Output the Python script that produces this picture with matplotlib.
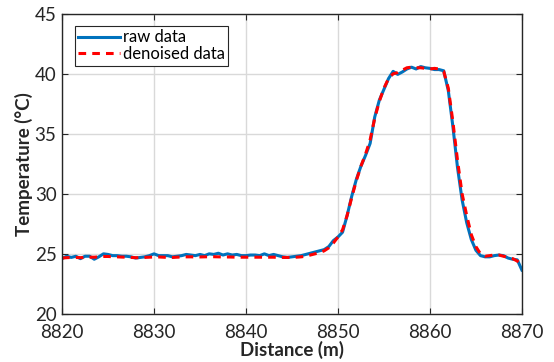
import numpy as np
import matplotlib
matplotlib.use("Agg")
from matplotlib import pyplot as plt

plt.rcParams['font.family'] = ['Lato', 'DejaVu Sans']

# distance sampled every 0.5 m
distance = np.arange(8820, 8870.01, 0.5)

raw_temp = [
    24.6, 24.8, 24.7, 24.8, 24.6, 24.8, 24.8, 24.55, 24.75, 25.0,
    24.95, 24.85, 24.85, 24.8, 24.8, 24.75, 24.65, 24.7, 24.75, 24.85,
    25.0, 24.85, 24.85, 24.85, 24.75, 24.8, 24.85, 24.95, 24.9, 24.85,
    24.95, 24.85, 25.0, 24.95, 25.05, 24.9, 25.0, 24.9, 24.95, 24.85,
    24.85, 24.9, 24.9, 24.85, 25.0, 24.85, 24.95, 24.85, 24.75, 24.7,
    24.75, 24.8, 24.85, 24.95, 25.05, 25.15, 25.25, 25.35, 25.6, 26.1,
    26.4, 26.8, 28.2, 29.8, 31.2, 32.3, 33.2, 34.2, 36.4, 37.8,
    38.7, 39.6, 40.2, 39.95, 40.15, 40.4, 40.55, 40.4, 40.6, 40.5,
    40.45, 40.35, 40.35, 40.25, 38.6, 35.6, 32.2, 29.5, 27.6, 26.2,
    25.3, 24.85, 24.75, 24.75, 24.85, 24.9, 24.85, 24.65, 24.55, 24.5,
    23.65,
]

denoised_temp = [
    24.65, 24.68, 24.7, 24.7, 24.68, 24.7, 24.72, 24.72, 24.75, 24.78,
    24.78, 24.76, 24.75, 24.73, 24.72, 24.7, 24.68, 24.68, 24.7, 24.72,
    24.74, 24.74, 24.72, 24.7, 24.7, 24.72, 24.74, 24.75, 24.75, 24.74,
    24.74, 24.75, 24.76, 24.76, 24.75, 24.74, 24.74, 24.73, 24.72, 24.72,
    24.72, 24.72, 24.72, 24.72, 24.72, 24.72, 24.72, 24.7, 24.7, 24.7,
    24.7, 24.72, 24.75, 24.8, 24.9, 25.0, 25.1, 25.25, 25.5, 25.9,
    26.4, 27.0, 28.2, 29.7, 31.1, 32.3, 33.3, 34.5, 36.3, 37.7,
    38.8, 39.6, 40.0, 40.1, 40.3, 40.5, 40.55, 40.5, 40.5, 40.45,
    40.4, 40.45, 40.4, 40.2, 38.8, 36.0, 32.8, 30.0, 28.2, 26.6,
    25.6, 25.0, 24.8, 24.85, 24.9, 24.9, 24.8, 24.7, 24.6, 24.4,
    24.1,
]

fig = plt.figure(figsize=(5.54, 3.62), dpi=100)
ax = fig.add_axes([0.112, 0.133, 0.830, 0.829])

ax.plot(distance, raw_temp, color='#0072BD', lw=2.2, label='raw data')
ax.plot(distance, denoised_temp, color='#FF0000', lw=2.2, ls=(0, (2.5, 2)), label='denoised data')

ax.set_xlim(8820, 8870)
ax.set_ylim(20, 45)
ax.set_xticks(np.arange(8820, 8871, 10))
ax.set_yticks(np.arange(20, 46, 5))
ax.grid(True, color='#d9d9d9', lw=1)
ax.set_axisbelow(True)

ax.tick_params(direction='in', top=True, right=True, labelsize=13.5, length=4,
               color='#262626', labelcolor='#262626')
ax.tick_params(axis='x', pad=7)
ax.tick_params(axis='y', pad=4)
for s in ax.spines.values():
    s.set_color('#262626')
    s.set_linewidth(1)

ax.set_xlabel('Distance (m)', fontsize=13.5, fontweight='bold', color='#262626', labelpad=0)
ax.set_ylabel('Temperature (°C)', fontsize=13.5, fontweight='bold', color='#262626', labelpad=1)

leg = ax.legend(loc='upper left', bbox_to_anchor=(0.02, 0.97), fontsize=12,
                fancybox=False, framealpha=1, edgecolor='#262626',
                handlelength=2.5, handletextpad=0.2, borderpad=0.2,
                labelspacing=0.05, borderaxespad=0.2)
leg.get_frame().set_linewidth(0.8)

fig.savefig('out.png', dpi=100)
